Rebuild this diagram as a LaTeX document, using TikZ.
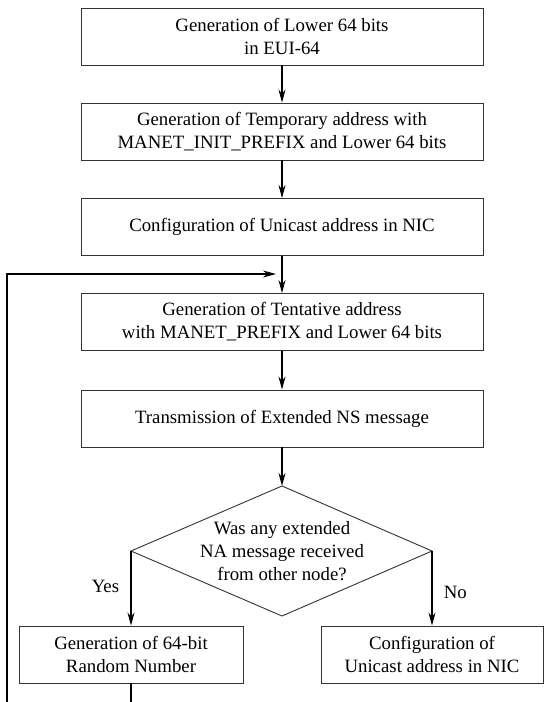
\documentclass[tikz,border=0pt]{standalone}
\usepackage{fontspec}
\setmainfont{Liberation Serif}
\usetikzlibrary{arrows.meta}

\tikzset{
    procbox/.style={draw=black!80, line width=0.9pt, minimum height=57pt, align=center, inner sep=0pt},
    flow/.style={line width=1.1pt, -{Stealth[length=13pt,width=7pt]}}
}

\begin{document}
\begin{tikzpicture}[x=1pt, y=-1pt, font=\fontsize{18.8}{23}\selectfont]
        \useasboundingbox (0,0) rectangle (544,702);

        \node[procbox, minimum width=402pt] (lower) at (282, 36.5) {Generation of Lower 64 bits\\in EUI-64};
        \node[procbox, minimum width=402pt] (temp) at (282, 131.5) {Generation of Temporary address with\\MANET\_INIT\_PREFIX and Lower 64 bits};
        \node[procbox, minimum width=402pt] (confA) at (282, 227) {Configuration of Unicast address in NIC};
        \node[procbox, minimum width=402pt] (tent) at (282, 322) {Generation of Tentative address\\with MANET\_PREFIX and Lower 64 bits};
        \node[procbox, minimum width=402pt] (trans) at (282, 418.5) {Transmission of Extended NS message};

        % decision
        \coordinate (qt) at (282, 486);
        \coordinate (ql) at (131, 551);
        \coordinate (qr) at (432, 551);
        \coordinate (qb) at (282, 616);
        \draw[black!80, line width=0.9pt] (qt) -- (qr) -- (qb) -- (ql) -- cycle;
        \node[align=center] (query) at (282, 551) {Was any extended\\NA message received\\from other node?};

        \node[procbox, minimum width=224pt] (rand) at (131, 654.5) {Generation of 64-bit\\Random Number};
        \node[procbox, minimum width=222pt] (confB) at (432, 654.5) {Configuration of\\Unicast address in NIC};

        \draw[flow] (lower) -- (temp);
        \draw[flow] (temp) -- (confA);
        \draw[flow] (confA) -- (tent);
        \draw[flow] (tent) -- (trans);
        \draw[flow] (trans) -- (qt);
        \draw[flow] (ql) -- (rand) node[pos=0.47, left=8pt] {Yes};
        \draw[flow] (qr) -- (confB) node[pos=0.55, right=8pt] {No};

        % loop back (cut at the bottom edge)
        \coordinate (loopA) at (131, 702);
        \coordinate (loopB) at (7, 702);
        \coordinate (loopC) at (7, 274);
        \coordinate (loopD) at (276, 274);
        \draw[line width=1.1pt] (rand) -- (loopA);
        \draw[flow] (loopB) -- (loopC) -- (loopD);
    \end{tikzpicture}
\end{document}
